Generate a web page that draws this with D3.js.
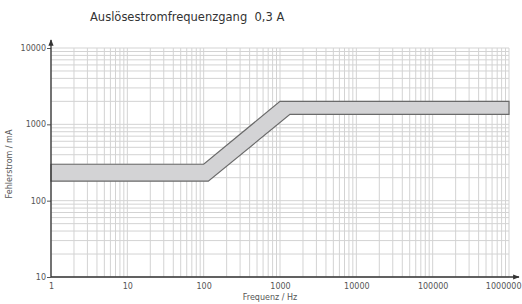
<!DOCTYPE html>
<html>
<head>
<meta charset="utf-8">
<script src="https://cdn.jsdelivr.net/npm/d3@7"></script>
<style>
  body { margin: 0; background: #fff; }
  text { font-family: "DejaVu Sans", sans-serif; fill: #444; }
</style>
</head>
<body>
<svg id="drawing_region"></svg>
<script>
// band limits of the trip current (mA) over frequency (Hz)
const upperFreq = [1, 100, 1000, 1000000];
const upperCurrent = [300, 300, 2000, 2000];
const lowerFreq = [1, 115, 1350, 1000000];
const lowerCurrent = [180, 180, 1350, 1350];

const xTicks = [1, 10, 100, 1000, 10000, 100000, 1000000];
const yTicks = [10, 100, 1000, 10000];

const config = {
    width: 522,
    height: 304,
    margin: {top: 48, right: 14, bottom: 27, left: 51}
};

const svg = d3.select('#drawing_region')
    .attr('width', config.width)
    .attr('height', config.height);

const inner_width = 509 - config.margin.left;
const inner_height = config.height - config.margin.top - config.margin.bottom;

const chart = svg.append('g')
    .attr('transform', `translate(${config.margin.left}, ${config.margin.top})`);

const xscale = d3.scaleLog().domain([1, 1000000]).range([0, inner_width]);
const yscale = d3.scaleLog().domain([10, 10000]).range([inner_height, 0]);

// grid: 1..9 per decade
const xgrid = [];
for (let e = 0; e < 6; e++) for (let m = 1; m < 10; m++) xgrid.push(m * Math.pow(10, e));
xgrid.push(1000000);
const ygrid = [];
for (let e = 1; e < 4; e++) for (let m = 1; m < 10; m++) ygrid.push(m * Math.pow(10, e));
ygrid.push(10000);

chart.selectAll('.vgrid')
    .data(xgrid)
    .enter()
    .append('line')
    .attr('x1', d => xscale(d)).attr('x2', d => xscale(d))
    .attr('y1', 0).attr('y2', inner_height)
    .attr('stroke', '#d3d3d3')
    .attr('stroke-width', 1);

chart.selectAll('.hgrid')
    .data(ygrid)
    .enter()
    .append('line')
    .attr('x1', 0).attr('x2', inner_width)
    .attr('y1', d => yscale(d)).attr('y2', d => yscale(d))
    .attr('stroke', '#d3d3d3')
    .attr('stroke-width', 1);

// band
const upper = upperFreq.map((f, i) => [f, upperCurrent[i]]);
const lower = lowerFreq.map((f, i) => [f, lowerCurrent[i]]);
const band = upper.concat(lower.slice().reverse());

const line = d3.line()
    .x(d => xscale(d[0]))
    .y(d => yscale(d[1]));

chart.append('path')
    .attr('d', line(band) + 'Z')
    .attr('fill', '#d3d3d5')
    .attr('stroke', '#6a6a6a')
    .attr('stroke-width', 1.2);

// axes
const xaxis = d3.axisBottom(xscale).tickValues(xTicks).tickFormat(d3.format('d')).tickSize(0).tickPadding(6);
const yaxis = d3.axisLeft(yscale).tickValues(yTicks).tickFormat(d3.format('d')).tickSize(4).tickPadding(1);

const xaxis_group = chart.append('g')
    .attr('transform', `translate(0, ${inner_height})`)
    .call(xaxis);
const yaxis_group = chart.append('g').call(yaxis);

[xaxis_group, yaxis_group].forEach(g => {
    g.select('.domain').remove();
    g.selectAll('text').style('font-size', '8px').style('fill', '#555')
        .style('font-family', '"DejaVu Sans", sans-serif');
    g.selectAll('line').attr('stroke', '#555');
});

// keep the last frequency label inside the window
xaxis_group.selectAll('.tick text')
    .filter(d => d === 1000000)
    .attr('text-anchor', 'end')
    .attr('x', config.width - 1 - config.margin.left - inner_width);

// axis lines with arrows
svg.append('defs').append('marker')
    .attr('id', 'arrow')
    .attr('viewBox', '0 0 10 10')
    .attr('refX', 9).attr('refY', 5)
    .attr('markerWidth', 5).attr('markerHeight', 5)
    .attr('orient', 'auto')
    .append('path')
    .attr('d', 'M0,1 L10,5 L0,9 Z')
    .attr('fill', '#333');

chart.append('line')
    .attr('x1', 0).attr('x2', 0)
    .attr('y1', inner_height).attr('y2', -8)
    .attr('stroke', '#333').attr('stroke-width', 1.3)
    .attr('marker-end', 'url(#arrow)');
chart.append('line')
    .attr('x1', 0).attr('x2', inner_width + 10)
    .attr('y1', inner_height).attr('y2', inner_height)
    .attr('stroke', '#333').attr('stroke-width', 1.3)
    .attr('marker-end', 'url(#arrow)');

// labels
svg.append('text')
    .attr('x', 90).attr('y', 21)
    .style('font-size', '11.5px')
    .style('fill', '#333')
    .text('Auslösestromfrequenzgang  0,3 A')
    .attr('xml:space', 'preserve');

svg.append('text')
    .attr('x', 270).attr('y', 300)
    .attr('text-anchor', 'middle')
    .style('font-size', '8px')
    .style('fill', '#555')
    .text('Frequenz / Hz');

svg.append('text')
    .attr('transform', 'translate(12, 164) rotate(-90)')
    .attr('text-anchor', 'middle')
    .style('font-size', '8px')
    .style('fill', '#555')
    .text('Fehlerstrom / mA');
</script>
</body>
</html>
